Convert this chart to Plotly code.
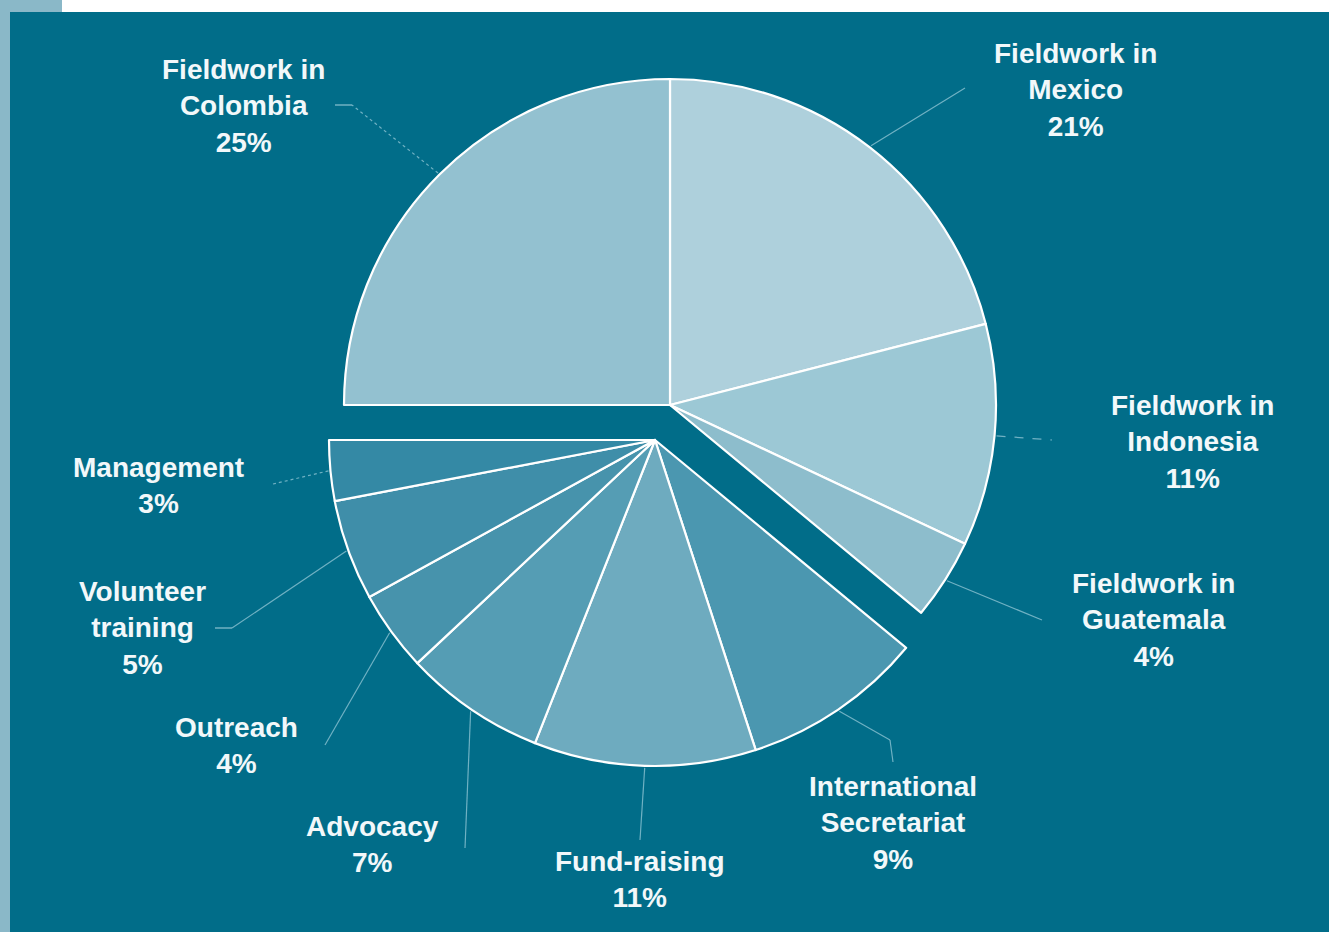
import math
import plotly.graph_objects as go

# ---- data (clockwise from 12 o'clock) ----
categories = ["Fieldwork in Mexico", "Fieldwork in Indonesia", "Fieldwork in Guatemala",
              "International Secretariat", "Fund-raising", "Advocacy", "Outreach",
              "Volunteer training", "Management", "Fieldwork in Colombia"]
values = [21, 11, 4, 9, 11, 7, 4, 5, 3, 25]
label_text = ["Fieldwork in<br>Mexico", "Fieldwork in<br>Indonesia", "Fieldwork in<br>Guatemala",
              "International<br>Secretariat", "Fund-raising", "Advocacy", "Outreach",
              "Volunteer<br>training", "Management", "Fieldwork in<br>Colombia"]
pulled_group = [False, False, False, True, True, True, True, True, True, False]
slice_colors = ["#aed0dc", "#9cc8d5", "#8dbdcc", "#4b97b0", "#6eabbf", "#559db4",
                "#4793ac", "#3f8ea9", "#3489a5", "#93c1d0"]

# ---- layout geometry (pixels) ----
W, H = 1329, 932
R = 326
main_c = (670, 405)
pull_c = (655, 440)
TEAL = "#016d89"
STRIP = "#8ab8c8"


def px(x):
    return x / W


def py(y):
    return 1 - y / H


def domain(c):
    return dict(x=[px(c[0] - R), px(c[0] + R)], y=[py(c[1] + R), py(c[1] - R)])


fig = go.Figure()
transparent = "rgba(0,0,0,0)"
for grp, c in [(False, main_c), (True, pull_c)]:
    cols = [col if p == grp else transparent for col, p in zip(slice_colors, pulled_group)]
    lcol = ["white" if p == grp else transparent for p in pulled_group]
    lw = [2.2 if p == grp else 0 for p in pulled_group]
    fig.add_trace(go.Pie(
        labels=categories, values=values, sort=False, direction="clockwise", rotation=0,
        marker=dict(colors=cols, line=dict(color=lcol, width=lw)),
        textinfo="none", hoverinfo="skip", showlegend=False, domain=domain(c)))

# ---- labels ----
label_pos = [(1075, 90), (1192, 442), (1153, 620), (893, 823), (640, 879),
             (372, 844), (236, 745), (142, 628), (158, 485), (243, 106)]
line_end = [[(965, 88)], [(1052, 440)], [(1042, 620)], [(890, 740), (893, 762)],
            [(640, 840)], [(465, 848)], [(325, 745)], [(232, 628)], [(273, 484)],
            [(352, 105)]]
line_dash = ["solid", "dash", "solid", "solid", "solid", "solid", "solid", "solid", "dot", "dot"]
extra_dash = {7: ((215, 628), (232, 628)), 9: ((335, 105), (352, 105))}

total = sum(values)
shapes = [
    dict(type="rect", xref="paper", yref="paper", x0=0, x1=px(62), y0=py(12), y1=1,
         fillcolor=STRIP, line=dict(width=0), layer="below"),
    dict(type="rect", xref="paper", yref="paper", x0=0, x1=px(10), y0=0, y1=1,
         fillcolor=STRIP, line=dict(width=0), layer="below"),
    dict(type="rect", xref="paper", yref="paper", x0=px(10), x1=1, y0=0, y1=py(12),
         fillcolor=TEAL, line=dict(width=0), layer="below"),
]
annotations = []
cum = 0
LC = "rgba(150,200,215,0.75)"
for i, v in enumerate(values):
    mid = (cum + v / 2) / total * 2 * math.pi
    cum += v
    c = pull_c if pulled_group[i] else main_c
    ex = c[0] + (R + 2) * math.sin(mid)
    ey = c[1] - (R + 2) * math.cos(mid)
    pts = [(ex, ey)] + line_end[i]
    for (x0, y0), (x1, y1) in zip(pts[:-1], pts[1:]):
        shapes.append(dict(type="line", xref="paper", yref="paper",
                           x0=px(x0), y0=py(y0), x1=px(x1), y1=py(y1),
                           line=dict(color=LC, width=1.2, dash=line_dash[i])))
    if i in extra_dash:
        (x0, y0), (x1, y1) = extra_dash[i]
        shapes.append(dict(type="line", xref="paper", yref="paper",
                           x0=px(x0), y0=py(y0), x1=px(x1), y1=py(y1),
                           line=dict(color=LC, width=1.5)))
    lx, ly = label_pos[i]
    annotations.append(dict(
        text=f"{label_text[i]}<br>{v}%", x=px(lx), y=py(ly), xref="paper", yref="paper",
        xanchor="center", yanchor="middle", showarrow=False, align="center",
        font=dict(family="Liberation Sans, Arial, sans-serif", size=28, color="#f2f8fa",
                  weight="bold")))

fig.update_layout(width=W, height=H, margin=dict(l=0, r=0, t=0, b=0),
                  paper_bgcolor="white", plot_bgcolor="white",
                  shapes=shapes, annotations=annotations)
fig.write_html("out.html", config={"displayModeBar": False},
               post_script="document.body.style.margin='0';document.body.style.overflow='hidden';")
